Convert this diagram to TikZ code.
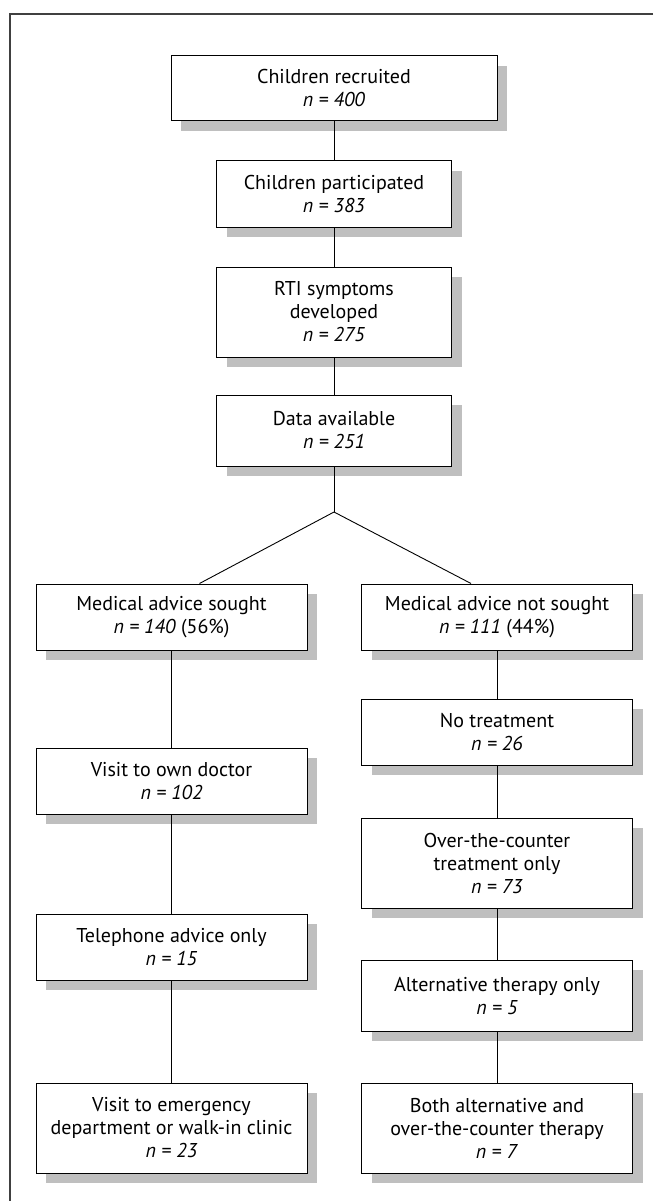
\documentclass[tikz,border=0pt]{standalone}
\usepackage{fontspec}
\setmainfont{PT Sans}
\usepackage{tikz}
\usetikzlibrary{positioning,shadows}

\begin{document}
\begin{tikzpicture}[
  x=1pt, y=1pt,
  box/.style={draw, line width=1pt, fill=white,
              drop shadow={shadow xshift=10pt, shadow yshift=-10pt,
                           fill=black!25, opacity=1},
              minimum width=#1, minimum height=66pt,
              align=center, inner sep=4pt,
              font=\fontsize{20}{23}\selectfont},
  box/.default=235pt,
  tall/.style={minimum height=90pt},
  link/.style={line width=0.9pt},
  frame/.style={line width=1.3pt, black!75},
]
\useasboundingbox (0,0) rectangle (653,-1201);

%% ─── Frame (top and left only) ────────────────────────────────────────────────
\draw[frame] (653,-14) -- (10,-14) -- (10,-1201);

%% ─── Main column ─────────────────────────────────────────────────────────────
\node[box=326pt, minimum height=65pt] at (334,-88.5) (rec)
  {Children recruited\\\textit{n = 400}};
\node[box, below=39pt of rec] (part)
  {Children participated\\\textit{n = 383}};
\node[box, tall, below=39pt of part] (rti)
  {RTI symptoms\\developed\\\textit{n = 275}};
\node[box, minimum height=71pt, below=37pt of rti] (data)
  {Data available\\\textit{n = 251}};

\coordinate (split) at (334,-512);
\draw[link] (rec)  -- (part);
\draw[link] (part) -- (rti);
\draw[link] (rti)  -- (data);
\draw[link] (data) -- (split);

%% ─── Medical advice sought ───────────────────────────────────────────────────
\node[box=271pt] at (171.5,-617) (sought)
  {Medical advice sought\\\textit{n = 140} (56\%)};
\node[box=271pt, below=97pt of sought] (own)
  {Visit to own doctor\\\textit{n = 102}};
\node[box=271pt, below=99pt of own] (tel)
  {Telephone advice only\\\textit{n = 15}};
\node[box=271pt, tall, below=102pt of tel] (emerg)
  {Visit to emergency\\department or walk-in clinic\\\textit{n = 23}};

\draw[link] (split) -- ([xshift=28pt]sought.north);
\draw[link] (sought) -- (own);
\draw[link] (own)    -- (tel);
\draw[link] (tel)    -- (emerg);

%% ─── Medical advice not sought ───────────────────────────────────────────────
\node[box=271pt] at (497,-617) (notsought)
  {Medical advice not sought\\\textit{n = 111} (44\%)};
\node[box=271pt, below=48pt of notsought] (none)
  {No treatment\\\textit{n = 26}};
\node[box=271pt, tall, below=52pt of none] (otc)
  {Over-the-counter\\treatment only\\\textit{n = 73}};
\node[box=271pt, minimum height=71pt, below=51pt of otc] (alt)
  {Alternative therapy only\\\textit{n = 5}};
\node[box=271pt, tall, below=51pt of alt] (both)
  {Both alternative and\\over-the-counter therapy\\\textit{n = 7}};

\draw[link] (split) -- ([xshift=-26pt]notsought.north);
\draw[link] (notsought) -- (none);
\draw[link] (none) -- (otc);
\draw[link] (otc)  -- (alt);
\draw[link] (alt)  -- (both);

\end{tikzpicture}
\end{document}
